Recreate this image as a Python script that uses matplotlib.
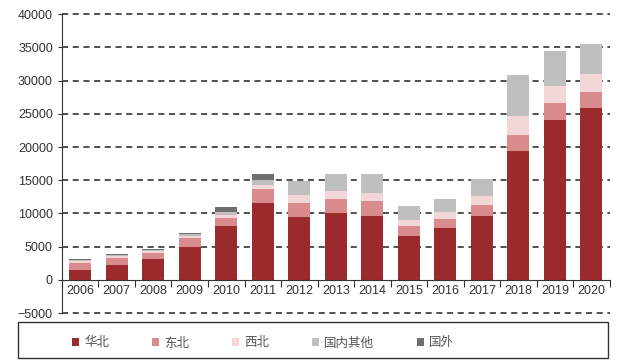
import matplotlib
matplotlib.use("Agg")
import matplotlib.pyplot as plt
from matplotlib.patches import Rectangle
import numpy as np

plt.rcParams['font.family'] = ['Liberation Sans', 'Noto Sans CJK SC', 'DejaVu Sans']

years = ['2006', '2007', '2008', '2009', '2010', '2011', '2012', '2013',
         '2014', '2015', '2016', '2017', '2018', '2019', '2020']

# stacked series, bottom to top
huabei = [1500, 2200, 3160, 5010, 8120, 11530, 9430, 10030, 9550, 6630, 7790, 9550, 19400, 24020, 25930]
dongbei = [1000, 1060, 950, 1360, 1160, 2110, 2200, 2100, 2260, 1410, 1360, 1660, 2460, 2610, 2310]
xibei = [350, 350, 300, 250, 490, 640, 1150, 1250, 1260, 1010, 1050, 1400, 2810, 2570, 2710]
qita = [200, 200, 150, 300, 500, 760, 2120, 2520, 2810, 2010, 1960, 2520, 6230, 5220, 4530]
guowai = [100, 100, 100, 100, 750, 860, 0, 0, 0, 0, 0, 0, 0, 0, 0]

series = [('华北', huabei, '#9a2a2c'),
          ('东北', dongbei, '#d98b8d'),
          ('西北', xibei, '#f3d6d7'),
          ('国内其他', qita, '#bfbfbf'),
          ('国外', guowai, '#6e6e6e')]

fig = plt.figure(figsize=(6.19, 3.62), dpi=100)
ax = fig.add_axes([0.1, 0.135, 0.885, 0.826])

x = np.arange(len(years))
bottom = np.zeros(len(years))
handles = []
for name, vals, color in series:
    b = ax.bar(x, vals, width=0.6, bottom=bottom, color=color, label=name, zorder=3)
    handles.append(b)
    bottom += np.array(vals)

ax.set_ylim(-5000, 40000)
ax.set_xlim(-0.5, len(years) - 0.5)
ax.set_yticks(np.arange(-5000, 40001, 5000))

# dashed gridlines at every y tick
for v in ax.get_yticks():
    if v != 0:
        ax.axhline(v, linestyle=(0, (4, 3)), color='#222222', linewidth=1.1, zorder=1,
                   clip_on=False)

ax.spines['top'].set_visible(False)
ax.spines['right'].set_visible(False)
ax.spines['bottom'].set_position(('data', 0))
ax.spines['bottom'].set_color('#333333')
ax.spines['left'].set_color('#333333')
ax.spines['bottom'].set_zorder(4)

# ticks at category boundaries, labels at centres
ax.set_xticks(np.arange(-0.5, len(years), 1.0))
ax.set_xticklabels([])
ax.set_xticks(x, minor=True)
ax.set_xticklabels(years, minor=True)
ax.tick_params(axis='x', which='major', direction='out', length=5, color='#333333')
ax.tick_params(axis='x', which='minor', length=0, pad=4, labelsize=9, labelcolor='#333333')
ax.tick_params(axis='y', direction='out', length=3, labelsize=9, labelcolor='#333333', color='#333333')

fig.legend(handles=handles, loc='center', bbox_to_anchor=(0.425, 0.0525),
           ncol=5, frameon=False, handlelength=0.6, handleheight=0.6,
           handletextpad=0.4, columnspacing=3.4, labelcolor='#555555',
           prop={'family': ['Noto Sans CJK SC'], 'size': 9})
fig.patches.append(Rectangle((18 / 619, 4 / 362), 590 / 619, 36 / 362,
                             transform=fig.transFigure, fill=False,
                             edgecolor='#333333', linewidth=1.0))

fig.savefig('out.png', dpi=100)
